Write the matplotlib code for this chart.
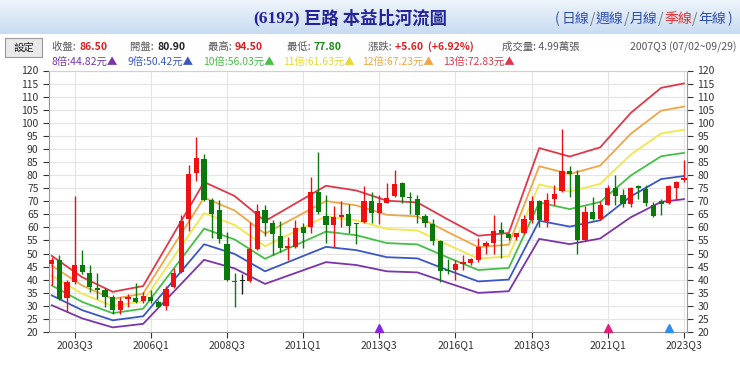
import matplotlib
matplotlib.use("Agg")
import matplotlib.pyplot as plt
import numpy as np
from matplotlib.patches import Rectangle
from matplotlib.colors import LinearSegmentedColormap

plt.rcParams['font.family'] = ['Noto Sans CJK TC', 'DejaVu Sans']

# ---------------- data ----------------
first_year, first_q = 2002, 4
n_quarters = 84
quarters = []
y, q = first_year, first_q
for _ in range(n_quarters):
    quarters.append(f"{y}Q{q}")
    q += 1
    if q > 4:
        q = 1
        y += 1

opens = [46.0, 47.7, 33.1, 39.2, 45.6, 42.6, 37.0, 36.0, 33.2, 28.6,
         32.5, 33.0, 31.8, 33.5, 31.6, 29.9, 37.3, 43.0, 63.1, 80.9,
         86.3, 70.4, 66.6, 53.8, 39.3, 39.5, 39.5, 51.6, 66.8, 61.7,
         56.8, 52.3, 52.6, 60.2, 60.2, 73.6, 64.4, 60.8, 64.0, 65.0,
         61.4, 62.1, 70.1, 65.5, 69.5, 71.9, 77.1, 71.5, 70.8, 64.4,
         61.2, 54.9, 43.5, 43.7, 46.0, 46.5, 47.7, 53.0, 54.2, 58.9,
         57.4, 56.4, 57.7, 63.0, 70.1, 62.5, 70.8, 73.9, 81.6, 80.2,
         55.1, 65.7, 63.4, 68.7, 75.2, 72.3, 68.9, 75.7, 74.8, 68.7,
         70.0, 69.4, 75.2, 78.3]
highs = [48.5, 49.4, 40.0, 72.0, 51.3, 45.6, 42.4, 36.7, 34.0, 33.5,
         34.5, 38.8, 35.4, 36.0, 32.3, 37.6, 44.6, 64.7, 83.7, 94.5,
         88.0, 71.3, 70.4, 58.3, 42.4, 42.0, 62.0, 69.0, 68.5, 63.0,
         62.5, 56.4, 62.7, 61.5, 79.3, 88.8, 72.3, 68.1, 70.0, 69.1,
         61.6, 75.7, 73.6, 72.3, 77.1, 81.8, 77.4, 73.6, 72.3, 65.3,
         63.4, 55.1, 48.1, 47.5, 49.6, 48.4, 55.8, 54.9, 64.9, 61.9,
         58.0, 58.0, 64.7, 72.0, 70.6, 73.2, 76.1, 97.7, 83.5, 81.8,
         68.2, 71.7, 70.1, 76.1, 80.0, 74.5, 75.5, 76.4, 76.1, 69.7,
         71.0, 76.1, 77.8, 85.9]
lows = [38.0, 32.3, 27.8, 38.5, 42.0, 35.4, 32.8, 29.4, 27.0, 27.0,
        29.5, 30.9, 31.0, 31.0, 29.4, 28.4, 36.7, 42.4, 58.7, 77.8,
        70.0, 55.8, 54.1, 39.6, 29.4, 34.7, 39.3, 51.3, 56.8, 49.4,
        50.5, 47.7, 52.0, 52.0, 58.0, 65.3, 54.1, 52.6, 60.2, 57.9,
        53.8, 61.5, 61.5, 61.2, 69.4, 71.7, 69.5, 65.3, 61.5, 60.2,
        53.2, 39.0, 42.1, 39.8, 43.9, 45.6, 46.8, 50.0, 50.0, 48.4,
        55.0, 55.0, 57.4, 61.5, 60.2, 60.2, 68.5, 73.6, 71.7, 50.0,
        54.9, 62.7, 62.7, 68.5, 68.5, 67.8, 67.8, 71.0, 68.1, 64.0,
        64.7, 69.0, 70.4, 77.4]
closes = [47.7, 32.8, 39.2, 45.6, 42.8, 37.3, 36.0, 33.5, 28.6, 32.0,
          33.2, 31.3, 33.6, 32.0, 29.7, 36.4, 42.4, 62.4, 80.6, 86.5,
          70.6, 65.0, 55.4, 39.8, 39.0, 39.5, 51.6, 66.3, 61.7, 57.3,
          52.3, 52.8, 59.6, 57.9, 73.6, 65.9, 60.8, 64.0, 64.7, 60.6,
          61.2, 70.0, 65.5, 69.4, 71.4, 76.5, 71.7, 71.3, 64.9, 61.7,
          54.9, 43.4, 43.2, 46.0, 46.7, 47.9, 52.6, 54.2, 58.5, 57.7,
          56.1, 57.7, 63.1, 70.0, 62.7, 70.6, 72.9, 81.6, 80.3, 55.1,
          65.7, 63.1, 68.5, 75.1, 72.0, 68.9, 75.2, 75.0, 69.4, 64.4,
          69.1, 75.7, 77.4, 78.9]

# trailing EPS at band vertices (quarter labels)
eps_quarters = ["2002Q4", "2003Q4", "2004Q4", "2005Q4", "2006Q4", "2007Q4",
                "2008Q4", "2009Q4", "2010Q4", "2011Q4", "2012Q4", "2013Q4",
                "2014Q4", "2015Q4", "2016Q4", "2017Q4", "2018Q4", "2019Q4",
                "2020Q4", "2021Q4", "2022Q4", "2023Q3"]
eps_values = [3.78, 3.15, 2.72, 2.89, 4.42, 5.95, 5.54, 4.80, 5.32, 5.84,
              5.70, 5.40, 5.35, 4.85, 4.37, 4.45, 6.95, 6.70, 6.97, 7.98,
              8.72, 8.85]
pe_multiples = [8, 9, 10, 11, 12, 13]
band_colors = ['#7a36a8', '#3a58c4', '#45bf45', '#f2e64a', '#f2a544', '#e0384a']

marker_quarters = ["2013Q3", "2021Q1", "2023Q1"]
marker_colors = ['#8a22e6', '#e0207a', '#2a8ff0']

tick_labels = ["2003Q3", "2006Q1", "2008Q3", "2011Q1", "2013Q3",
               "2016Q1", "2018Q3", "2021Q1", "2023Q3"]

# ---------------- figure ----------------
W, H = 740, 365
fig = plt.figure(figsize=(W / 100, H / 100), dpi=100)

def fx(px):
    return px / W

def fy(py):
    return 1 - py / H

# header gradient
hax = fig.add_axes([0, fy(34), 1, 34 / H])
grad = np.linspace(0, 1, 50).reshape(-1, 1)
cm = LinearSegmentedColormap.from_list('hdr', ['#eef4fb', '#c9dcf1'])
hax.imshow(grad, aspect='auto', cmap=cm, extent=[0, 1, 0, 1])
hax.set_axis_off()

fig.text(fx(300), fy(19), "(6192)", fontsize=12.5, fontweight='bold',
         family=['Liberation Serif'], color='#23239a', ha='right', va='center')
fig.text(fx(304), fy(19), "巨路 本益比河流圖", fontsize=12.5, fontweight='bold',
         color='#23239a', ha='left', va='center')

link_parts = [("(", 555, '#3050b0'), ("日線", 562, '#3050b0'), ("/", 590, '#777777'),
              ("週線", 596, '#3050b0'), ("/", 624, '#777777'), ("月線", 630, '#3050b0'),
              ("/", 658, '#777777'), ("季線", 664, '#e03030'), ("/", 692, '#777777'),
              ("年線", 698, '#3050b0'), (")", 727, '#3050b0')]
for txt, px, col in link_parts:
    fig.text(fx(px), fy(19), txt, fontsize=10, color=col, ha='left', va='center')

# settings button
fig.patches.append(Rectangle((fx(5), fy(57)), fx(37), 19 / H, transform=fig.transFigure,
                             facecolor='#e9e9e9', edgecolor='#9a9a9a', lw=0.8))
fig.text(fx(23.5), fy(47.5), "設定", fontsize=7.5, color='#222222', ha='center', va='center')

row1 = [
    (52, "收盤: ", '#555555', "86.50", '#e02020'),
    (130, "開盤: ", '#555555', "80.90", '#222222'),
    (208, "最高: ", '#555555', "94.50", '#e02020'),
    (287, "最低: ", '#555555', "77.80", '#1a8a1a'),
    (368, "漲跌: ", '#555555', "+5.60  (+6.92%)", '#e02020'),
]
for px, lab, lc, val, vc in row1:
    fig.text(fx(px), fy(47), lab, fontsize=7.5, color=lc, ha='left', va='center')
    fig.text(fx(px + 27), fy(47), val, fontsize=7.5, color=vc, ha='left', va='center',
             fontweight='bold')
fig.text(fx(502), fy(47), "成交量: 4.99萬張", fontsize=7.5, color='#555555', ha='left', va='center')
fig.text(fx(736), fy(47), "2007Q3 (07/02~09/29)", fontsize=7.5, color='#555555', ha='right', va='center')

row2 = [(52, "8倍:44.82元▲", band_colors[0]), (128, "9倍:50.42元▲", band_colors[1]),
        (203, "10倍:56.03元▲", band_colors[2]), (283, "11倍:61.63元▲", '#e8d830'),
        (362, "12倍:67.23元▲", band_colors[4]), (443, "13倍:72.83元▲", band_colors[5])]
for px, txt, col in row2:
    fig.text(fx(px), fy(62), txt, fontsize=7.5, color=col, ha='left', va='center')

# ---------------- main axes ----------------
left, right, top, bottom = 49, 687, 70.5, 332
ax = fig.add_axes([fx(left), fy(bottom), fx(right - left), (bottom - top) / H])

xs = np.arange(len(quarters))
qidx = {qq: i for i, qq in enumerate(quarters)}

# bands
ex = [qidx[qq] for qq in eps_quarters]
for m, col in zip(pe_multiples, band_colors):
    ax.plot(ex, [m * e for e in eps_values], color=col, lw=1.3, zorder=2)

# candles
o = np.array(opens); h = np.array(highs); l = np.array(lows); c = np.array(closes)
cols = np.where(c > o, '#ee1111', np.where(c < o, '#0a7a0a', '#222222'))
ax.vlines(xs, l, h, colors=cols, lw=1.0, zorder=3)
body_h = np.maximum(np.abs(c - o), 0.35)
ax.bar(xs, body_h, bottom=np.minimum(o, c), width=0.68, color=cols, zorder=4, linewidth=0)

# event markers
for qq, col in zip(marker_quarters, marker_colors):
    ax.plot(qidx[qq], 21.4, marker='^', color=col, markersize=5.5, zorder=5, clip_on=False)

ax.set_xlim(-0.36, 83.4)
ax.set_ylim(20, 120)
ax.set_yticks(np.arange(20, 121, 5))
ax.set_xticks([qidx[t] for t in tick_labels])
ax.set_xticklabels(tick_labels)
ax.tick_params(axis='both', labelsize=7.5, colors='#333333', length=4, width=0.8)
ax.tick_params(axis='y', right=True, labelright=True, direction='out')
ax.tick_params(axis='x', pad=2)
for lab in ax.get_xticklabels() + ax.get_yticklabels():
    lab.set_color('#333333')
ax.grid(True, color='#e4e4e4', lw=0.8, zorder=0)
ax.set_axisbelow(True)
for s in ['left', 'right', 'bottom']:
    ax.spines[s].set_color('#9a9a9a')
ax.spines['top'].set_color('#d0d0d0')

fig.savefig("out.png", dpi=100)
